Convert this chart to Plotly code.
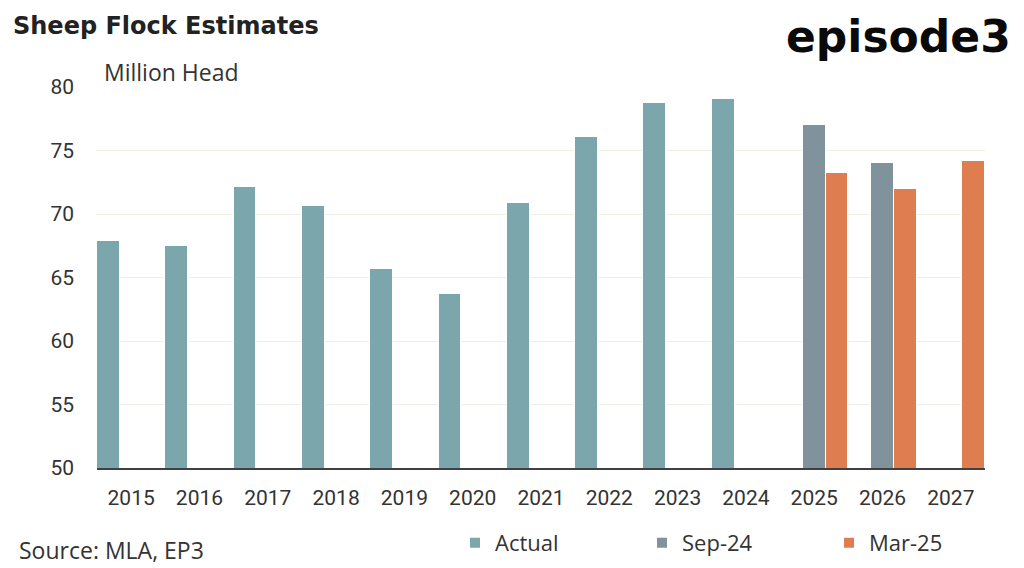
import plotly.graph_objects as go

years = ["2015", "2016", "2017", "2018", "2019", "2020", "2021", "2022", "2023", "2024", "2025", "2026", "2027"]
actual = [67.9, 67.45, 72.1, 70.6, 65.7, 63.7, 70.9, 76.05, 78.75, 79.05, None, None, None]
sep24 = [None, None, None, None, None, None, None, None, None, None, 77.0, 74.0, None]
mar25 = [None, None, None, None, None, None, None, None, None, None, 73.2, 71.95, 74.15]

W, H = 1024, 568
L, R, T, B = 97, 985, 87, 470

def px(x):
    return (x - L) / (R - L)

def py(y):
    return (B - y) / (B - T)

FONT = "Open Sans"
TICKFONT = "Roboto"
TXT = "#333333"

fig = go.Figure()
fig.add_trace(go.Bar(x=years, y=actual, name="Actual", marker=dict(color="#7BA6AC", line=dict(color="white", width=1))))
fig.add_trace(go.Bar(x=years, y=sep24, name="Sep-24", marker=dict(color="#80939D", line=dict(color="white", width=1))))
fig.add_trace(go.Bar(x=years, y=mar25, name="Mar-25", marker=dict(color="#DE7E50", line=dict(color="white", width=1))))

fig.update_layout(
    width=W, height=H,
    margin=dict(l=L, r=W - R, t=T, b=H - B, pad=0),
    paper_bgcolor="white", plot_bgcolor="white",
    barmode="group", bargap=0, bargroupgap=0,
    font=dict(family=FONT, size=22, color=TXT),
    title=dict(text="<b>Sheep Flock Estimates</b>", xref="container", yref="container",
               x=13 / W, y=1 - 26 / H, xanchor="left", yanchor="middle",
               font=dict(family="DejaVu Sans", size=24, color="#222222")),
    showlegend=True,
    legend=dict(orientation="h", xref="container", yref="container",
                x=455 / W, y=1 - 543 / H, xanchor="left", yanchor="middle",
                entrywidth=142, entrywidthmode="pixels",
                font=dict(family=FONT, size=22, color=TXT),
                itemsizing="constant", traceorder="normal"),
    xaxis=dict(type="category", range=[-0.5, 12.5], showgrid=False, showline=True,
               linecolor="#404040", linewidth=1.5, ticks="", ticklabelstandoff=10,
               tickfont=dict(family=TICKFONT, size=21, color=TXT)),
    yaxis=dict(range=[50, 80], dtick=5, showgrid=True, gridcolor="#EEEEE4", gridwidth=1,
               showline=False, zeroline=False, ticks="", ticklabelstandoff=22,
               tickfont=dict(family=TICKFONT, size=21, color=TXT)),
)

fig.add_annotation(text="Million Head", xref="paper", yref="paper", x=px(102), y=py(72),
                   xanchor="left", yanchor="middle", showarrow=False,
                   font=dict(family=FONT, size=23, color=TXT))
fig.add_annotation(text="Source: MLA, EP3", xref="paper", yref="paper", x=px(17), y=py(552),
                   xanchor="left", yanchor="middle", showarrow=False,
                   font=dict(family=FONT, size=23, color=TXT))
fig.add_annotation(text="<b>episode3</b>", xref="paper", yref="paper", x=px(1013), y=py(36),
                   xanchor="right", yanchor="middle", showarrow=False,
                   font=dict(family="DejaVu Sans", size=44, color="#0A0A0A"))

fig.write_html("out.html", config={"displayModeBar": False})
with open("out.html", "r", encoding="utf-8") as f:
    html = f.read()
html = html.replace("<body>", '<body style="margin:0">', 1)
with open("out.html", "w", encoding="utf-8") as f:
    f.write(html)
